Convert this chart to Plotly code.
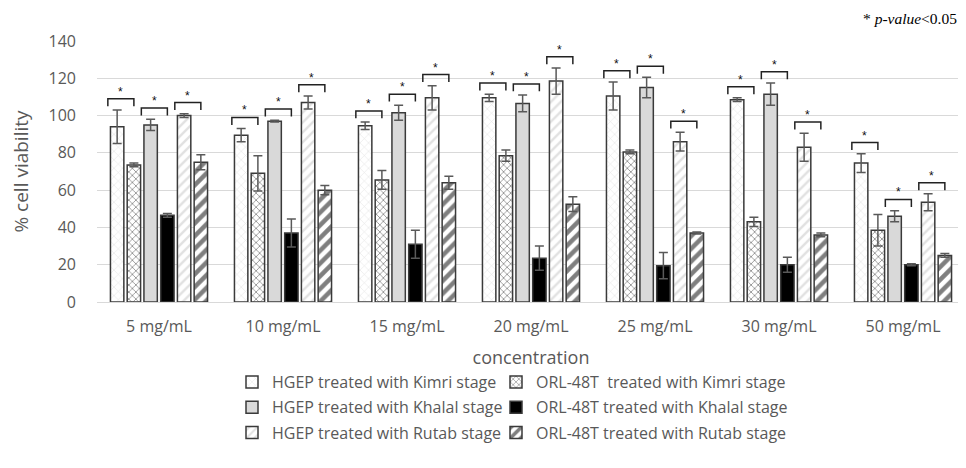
import plotly.graph_objects as go

# ---------------- data ----------------
categories = ["5 mg/mL", "10 mg/mL", "15 mg/mL", "20 mg/mL", "25 mg/mL", "30 mg/mL", "50 mg/mL"]

hgep_kimri = [94, 89.5, 94.5, 109.5, 110.5, 108.5, 74.5]
hgep_kimri_err = [9, 3.5, 2, 2, 7.5, 1, 5]
orl_kimri = [73.5, 69, 65.5, 78.5, 80.5, 43, 38.5]
orl_kimri_err = [1, 9.5, 5, 3, 1, 2.5, 8.5]
hgep_khalal = [95, 97, 101.5, 106.5, 115, 111.5, 46]
hgep_khalal_err = [3, 0.5, 4, 4.5, 5.5, 6, 3]
orl_khalal = [46.5, 37, 31, 23.5, 19.5, 20, 20]
orl_khalal_err = [1, 7.5, 7.5, 6.5, 7, 4, 0.5]
hgep_rutab = [100, 107, 109.5, 118.5, 86, 83, 53.5]
hgep_rutab_err = [1, 3.5, 6.5, 7, 5, 7.5, 4.5]
orl_rutab = [75, 60, 64, 52.5, 37, 36, 25]
orl_rutab_err = [4, 2.5, 3.5, 4, 0.5, 1, 1]

series_names = [
    "HGEP treated with Kimri stage",
    "ORL-48T\u00a0 treated with Kimri stage",
    "HGEP treated with Khalal stage",
    "ORL-48T treated with Khalal stage",
    "HGEP treated with Rutab stage",
    "ORL-48T treated with Rutab stage",
]
series_values = [hgep_kimri, orl_kimri, hgep_khalal, orl_khalal, hgep_rutab, orl_rutab]
series_errors = [hgep_kimri_err, orl_kimri_err, hgep_khalal_err, orl_khalal_err, hgep_rutab_err, orl_rutab_err]

y_ticks = [0, 20, 40, 60, 80, 100, 120, 140]

# ---------------- styles / geometry ----------------
FONT = "Open Sans"
TXT = "#595959"
OUTLINE = "#3a3a3a"
OFF = 8  # page body margin
W, H = 966 - OFF, 468 - OFF
ML, MT = 97 - OFF, 41 - OFF
PW, PH = 868, 261
MR = W - ML - PW
MB = H - MT - PH


def px_x(px):
    return (px - OFF - ML) / PW


def px_y(py):
    return (MT + PH - (py - OFF)) / PH


styles = [
    dict(color="white", pattern=dict(shape="x", fgcolor="#c8c8c8", bgcolor="white", size=6, solidity=0.18)),
    dict(color="white", pattern=dict(shape="x", fgcolor="#1a1a1a", bgcolor="white", size=5, solidity=0.3)),
    dict(color="#d9d9d9"),
    dict(color="#000000"),
    dict(color="white", pattern=dict(shape="/", fgcolor="#c4c4c4", bgcolor="white", size=7, solidity=0.35)),
    dict(color="white", pattern=dict(shape="/", fgcolor="#000000", bgcolor="white", size=9, solidity=0.5)),
]

BARGAP = 0.19
BARGROUPGAP = 0.2

fig = go.Figure()
for k, (name, vals, errs, st) in enumerate(zip(series_names, series_values, series_errors, styles)):
    marker = dict(color=st["color"], line=dict(color=OUTLINE, width=1.5))
    if "pattern" in st:
        marker["pattern"] = st["pattern"]
    fig.add_trace(go.Bar(
        x=categories, y=vals, name=name, marker=marker,
        error_y=dict(type="data", array=errs, visible=True, color="#595959", thickness=1.5, width=4.5),
        legend="legend" if k % 2 == 0 else "legend2",
        legendgroup=f"g{k}",
    ))

# significance brackets for each stage pair (HGEP vs ORL-48T)
slot = (1 - BARGAP) / 6
for i, cat in enumerate(categories):
    for s in range(3):
        a, b = 2 * s, 2 * s + 1
        top = max(series_values[a][i] + series_errors[a][i], series_values[b][i] + series_errors[b][i])
        c1 = i - (1 - BARGAP) / 2 + slot * (a + 0.5)
        c2 = i - (1 - BARGAP) / 2 + slot * (b + 0.5)
        x0 = c1 - 0.075
        x1 = c2
        yb = top + 2
        yt = top + 6
        fig.add_shape(type="path", xref="x", yref="y",
                      path=f"M {x0},{yb} L {x0},{yt} L {x1},{yt} L {x1},{yb}",
                      line=dict(color="#222222", width=1.5))
        fig.add_annotation(x=(x0 + x1) / 2, y=yt, xref="x", yref="y", text="*", showarrow=False,
                           yanchor="bottom", yshift=-2, font=dict(family="Liberation Sans", size=12, color="#111111"))

fig.add_annotation(xref="paper", yref="paper", x=px_x(958), y=px_y(OFF + 1), xanchor="right", yanchor="top",
                   text="* <i>p-value</i>&lt;0.05", showarrow=False, borderpad=0,
                   font=dict(family="Liberation Serif", size=15.5, color="black"))

LEG_FONT = 16
fig.update_layout(
    width=W, height=H,
    margin=dict(l=ML, r=MR, t=MT, b=MB),
    paper_bgcolor="white", plot_bgcolor="white",
    barmode="group", bargap=BARGAP, bargroupgap=BARGROUPGAP,
    font=dict(family=FONT, color=TXT, size=16),
    xaxis=dict(
        type="category", range=[-0.5, len(categories) - 0.5],
        showline=True, linecolor="#d9d9d9", linewidth=1,
        showgrid=False, ticks="", tickfont=dict(size=16, color=TXT),
        ticklabelstandoff=10,
        title=dict(text="concentration", font=dict(size=18, color=TXT), standoff=15),
    ),
    yaxis=dict(
        range=[0, 140], tickvals=y_ticks, ticktext=[str(v) for v in y_ticks],
        showgrid=True, gridcolor="#d9d9d9", gridwidth=1, zeroline=False,
        ticks="", tickfont=dict(size=16, color=TXT), ticklabelstandoff=20,
        title=dict(text="% cell viability", font=dict(size=19, color=TXT), standoff=16),
    ),
    legend=dict(x=px_x(232), y=px_y(365),
                xanchor="left", yanchor="top", orientation="v", bgcolor="rgba(0,0,0,0)",
                font=dict(size=LEG_FONT, color=TXT), itemwidth=30, tracegroupgap=1.5),
    legend2=dict(x=px_x(496), y=px_y(365),
                 xanchor="left", yanchor="top", orientation="v", bgcolor="rgba(0,0,0,0)",
                 font=dict(size=LEG_FONT, color=TXT), itemwidth=30, tracegroupgap=1.5),
    showlegend=True,
)

fig.write_html("out.html")
